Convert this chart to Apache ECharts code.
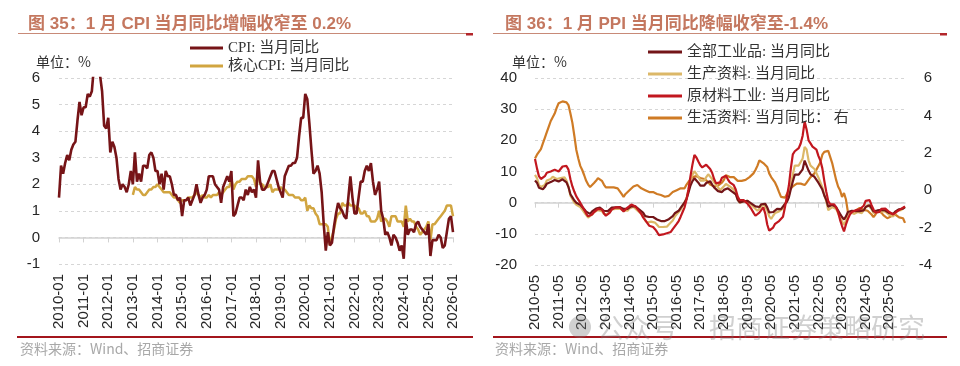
<!DOCTYPE html>
<html><head><meta charset="utf-8">
<script src="https://cdn.jsdelivr.net/npm/echarts@6/dist/echarts.min.js"></script>
<style>html,body{margin:0;padding:0;background:#fff}#c{width:960px;height:366px}</style>
</head><body><div id="c"></div>
<script>
// ---------- Left chart: CPI (monthly, 2010-01 .. 2026-01) ----------
const cpi = [
1.5,2.7,2.4,2.8,3.1,2.9,3.3,3.5,3.6,4.4,5.1,4.6,
4.9,4.9,5.4,5.3,5.5,6.4,6.5,6.2,6.1,5.5,4.2,4.1,
4.5,3.2,3.6,3.4,3.0,2.2,1.8,2.0,1.9,1.7,2.0,2.5,
2.0,3.2,2.1,2.4,2.1,2.7,2.7,2.6,3.1,3.2,3.0,2.5,
2.5,2.0,2.4,1.8,2.5,2.3,2.3,2.0,1.6,1.6,1.4,1.5,
0.8,1.4,1.4,1.5,1.2,1.4,1.6,2.0,1.6,1.3,1.5,1.6,
1.8,2.3,2.3,2.3,2.0,1.9,1.8,1.3,1.9,2.1,2.3,2.1,
2.5,0.8,0.9,1.2,1.5,1.5,1.4,1.8,1.6,1.9,1.7,1.8,
1.5,2.9,2.1,1.8,1.8,1.9,2.1,2.3,2.5,2.5,2.2,1.9,
1.7,1.5,2.3,2.5,2.7,2.7,2.8,2.8,3.0,3.8,4.5,4.5,
5.4,5.2,4.3,3.3,2.4,2.5,2.7,2.4,1.7,0.5,-0.5,0.2,
-0.3,-0.2,0.4,0.9,1.3,1.1,1.0,0.8,0.7,1.5,2.3,1.5,
0.9,0.9,1.5,2.1,2.1,2.5,2.7,2.5,2.8,2.1,1.6,1.8,
2.1,1.0,0.7,0.1,0.2,0.0,-0.3,0.1,0.0,-0.2,-0.5,-0.3,
-0.8,0.7,0.1,0.3,0.3,0.2,0.5,0.6,0.4,0.3,0.2,0.1,
0.5,-0.7,-0.1,-0.1,-0.1,0.1,0.0,-0.4,-0.3,0.2,0.7,0.8,
0.2];
// core CPI, 2013-01 .. 2026-01
const coreCpi = [
1.6,1.9,1.8,1.8,1.7,1.6,1.6,1.7,1.8,1.8,1.9,1.9,
2.0,1.9,1.8,1.7,1.7,1.7,1.7,1.6,1.5,1.5,1.4,1.3,
1.4,1.4,1.4,1.5,1.5,1.5,1.6,1.7,1.6,1.5,1.6,1.5,
1.5,1.6,1.5,1.6,1.6,1.6,1.7,1.6,1.7,1.8,1.9,1.9,
2.2,1.8,2.0,2.1,2.1,2.2,2.2,2.2,2.3,2.3,2.3,2.2,
1.9,2.5,2.0,2.0,1.9,1.9,1.9,2.0,1.7,1.8,1.8,1.8,
1.9,1.8,1.8,1.7,1.6,1.6,1.6,1.5,1.5,1.5,1.4,1.4,
1.5,1.0,1.2,1.1,1.1,0.9,0.8,0.5,0.5,0.5,0.5,0.4,
-0.3,0.0,0.3,0.7,0.9,0.9,1.3,1.2,1.2,1.3,1.2,1.2,
1.2,1.1,1.1,0.9,0.9,1.0,0.8,0.8,0.6,0.6,0.6,0.7,
1.0,0.6,0.7,0.7,0.6,0.4,0.8,0.8,0.8,0.6,0.6,0.6,
0.4,1.2,0.6,0.7,0.6,0.6,0.4,0.3,0.1,0.2,0.3,0.4,
0.6,-0.1,0.5,0.5,0.6,0.7,0.8,0.9,1.0,1.2,1.2,1.2,
0.8];

// ---------- Right chart: PPI (monthly, 2010-05 .. 2026-01) ----------
const ppiAll = [
7.1,6.4,4.8,4.3,4.3,5.0,6.1,5.9,
6.6,7.2,7.3,6.8,6.8,7.1,7.5,7.3,6.5,5.0,2.7,1.7,
0.7,0.0,-0.3,-0.7,-1.4,-2.1,-2.9,-3.5,-3.6,-2.8,-2.2,-1.9,
-1.6,-1.6,-1.9,-2.6,-2.9,-2.7,-2.3,-1.6,-1.3,-1.5,-1.4,-1.4,
-1.6,-2.0,-2.3,-2.0,-1.4,-1.1,-0.9,-1.2,-1.8,-2.2,-2.7,-3.3,
-4.3,-4.8,-4.6,-4.6,-4.6,-4.8,-5.4,-5.9,-5.9,-5.9,-5.9,-5.9,
-5.3,-4.9,-4.3,-3.4,-2.8,-2.6,-1.7,-0.8,0.1,1.2,3.3,5.5,
6.9,7.8,7.6,6.4,5.5,5.5,5.5,6.3,6.9,6.9,5.8,4.9,
4.3,3.7,3.1,3.4,4.1,4.7,4.6,4.1,3.6,3.3,2.7,0.9,
0.1,0.1,0.4,0.9,0.6,0.0,-0.3,-0.8,-1.2,-1.6,-1.4,-0.5,
0.1,-0.4,-1.5,-3.1,-3.7,-3.0,-2.4,-2.0,-2.1,-2.1,-1.5,-0.4,
0.3,1.7,4.4,6.8,9.0,8.8,9.0,9.5,10.7,13.5,12.9,10.3,
9.1,8.8,8.3,8.0,6.4,6.1,4.2,2.3,0.9,-1.3,-1.3,-0.7,
-0.8,-1.4,-2.5,-3.6,-4.6,-5.4,-4.4,-3.0,-2.5,-2.6,-3.0,-2.7,
-2.5,-2.7,-2.8,-2.5,-1.4,-0.8,-0.8,-1.8,-2.8,-2.9,-2.5,-2.3,
-2.3,-2.2,-2.5,-2.7,-3.3,-3.6,-3.6,-2.9,-2.3,-2.1,-2.2,-1.9,
-1.4];
const ppiProducer = [
8.9,7.9,5.7,5.0,4.9,5.7,7.1,6.7,
7.6,8.3,8.4,7.6,7.5,7.9,8.4,8.1,7.1,5.2,2.2,1.1,
0.0,-0.7,-1.0,-1.4,-2.2,-3.1,-4.0,-4.8,-4.9,-3.8,-3.1,-2.7,
-2.4,-2.4,-2.7,-3.6,-3.9,-3.7,-3.1,-2.2,-1.8,-2.0,-1.9,-1.9,
-2.1,-2.5,-3.0,-2.6,-1.9,-1.5,-1.3,-1.7,-2.5,-3.0,-3.6,-4.4,
-5.7,-6.4,-6.1,-6.1,-6.1,-6.4,-7.1,-7.8,-7.8,-7.8,-7.7,-7.7,
-7.0,-6.5,-5.7,-4.5,-3.7,-3.5,-2.3,-1.1,0.1,1.5,4.2,7.2,
9.0,10.1,9.9,8.3,7.1,7.1,7.1,8.2,9.1,9.1,7.6,6.5,
5.7,4.9,4.0,4.4,5.3,6.0,5.9,5.2,4.6,4.2,3.4,1.0,
0.0,0.0,0.4,1.0,0.6,-0.2,-0.7,-1.4,-2.0,-2.6,-2.4,-1.2,
-0.4,-1.0,-2.4,-4.4,-5.2,-4.2,-3.3,-2.7,-2.8,-2.7,-1.9,-0.4,
0.5,2.3,5.8,9.0,11.9,11.6,11.9,12.5,14.2,17.9,17.1,13.6,
11.9,11.5,10.8,10.3,8.1,7.6,5.0,2.4,0.5,-2.4,-2.4,-1.4,
-1.4,-2.0,-3.4,-4.8,-6.0,-7.2,-5.7,-3.6,-2.9,-3.1,-3.6,-3.2,
-3.0,-3.3,-3.4,-3.0,-1.5,-0.7,-0.7,-2.0,-3.3,-3.4,-3.0,-2.7,
-2.7,-2.5,-2.9,-3.1,-3.9,-4.3,-4.4,-3.4,-2.6,-2.3,-2.4,-2.0,
-1.3];
const ppiRaw = [
14.0,11.0,8.5,7.6,7.4,8.5,9.6,9.4,
10.0,10.5,10.6,10.0,10.0,10.8,11.6,12.2,11.8,10.6,7.5,5.2,
3.5,2.0,1.0,0.0,-1.2,-2.3,-3.5,-4.4,-4.6,-3.8,-3.0,-2.5,
-2.0,-1.6,-2.2,-3.4,-4.2,-4.0,-3.2,-2.2,-1.6,-1.5,-1.4,-1.5,
-1.8,-2.8,-2.6,-1.6,-1.0,-0.6,-0.5,-1.2,-1.8,-2.8,-3.6,-4.8,
-5.6,-6.5,-7.4,-7.6,-7.8,-8.5,-9.4,-10.4,-10.7,-10.2,-9.6,-9.8,
-10.0,-9.4,-8.5,-8.0,-6.8,-5.9,-4.5,-3.0,-1.5,1.0,4.3,8.5,
12.2,15.3,14.5,13.2,12.0,11.3,11.5,12.2,11.8,10.8,9.6,7.6,
6.2,5.8,6.5,8.0,8.6,8.6,7.5,6.5,6.2,5.6,4.2,2.0,
0.8,0.5,0.8,0.8,-0.3,-1.2,-2.1,-3.2,-4.2,-4.3,-3.2,-2.8,
-1.5,-3.5,-7.0,-9.0,-9.5,-8.0,-6.8,-6.2,-5.9,-5.6,-4.5,-1.5,
2.0,5.5,11.0,15.5,16.5,17.0,17.5,19.0,21.5,26.0,23.5,20.0,
19.0,18.0,17.5,17.0,15.0,13.5,11.0,7.0,3.5,0.5,-0.5,0.0,
-0.5,-1.5,-3.0,-5.5,-7.5,-9.2,-7.0,-5.2,-3.8,-3.0,-3.2,-2.4,
-2.2,-2.1,-2.1,-1.0,0.6,1.1,0.8,-0.8,-2.2,-3.2,-3.8,-3.0,
-2.0,-1.6,-1.9,-2.2,-3.0,-3.6,-3.8,-3.3,-2.8,-2.4,-2.0,-1.6,
-1.2];
// consumer goods PPI (right axis)
const ppiConsumer = [
1.7,1.9,2.0,2.2,2.5,2.8,3.1,3.4,
3.7,3.9,4.1,4.4,4.65,4.7,4.75,4.77,4.7,4.55,4.1,3.6,
2.9,2.15,1.7,1.3,1.08,0.8,0.5,0.3,0.17,0.25,0.38,0.5,
0.65,0.7,0.5,0.3,0.15,0.2,0.15,0.1,0.15,0.1,0.1,0.0,
-0.2,-0.36,-0.2,-0.1,0.0,0.1,0.2,0.28,0.28,0.2,0.1,0.05,
0.0,-0.05,-0.1,-0.1,-0.1,-0.1,-0.2,-0.2,-0.26,-0.3,-0.35,-0.4,
-0.3,-0.2,-0.1,0.0,0.0,0.05,0.1,0.05,0.1,0.3,0.45,0.55,
0.7,0.8,0.75,0.7,0.65,0.64,0.6,0.55,0.45,0.3,0.28,0.2,
0.17,0.25,0.35,0.4,0.55,0.8,0.75,0.7,0.72,0.7,0.6,0.5,
0.45,0.5,0.55,0.55,0.6,0.7,0.8,0.9,1.08,1.3,1.6,1.5,
1.45,1.35,1.24,0.9,0.7,0.55,0.4,0.17,-0.1,-0.36,-0.4,-0.4,
-0.2,0.0,0.1,0.2,0.28,0.35,0.38,0.35,0.3,0.28,0.4,0.55,
0.7,0.8,0.9,1.1,1.3,1.5,1.9,2.05,2.15,2.1,2.0,1.45,
1.0,0.55,0.2,0.0,-0.36,-0.15,-0.5,-1.17,-1.2,-1.17,-1.17,-1.1,
-1.0,-0.95,-1.0,-1.05,-1.0,-1.1,-1.15,-1.3,-1.43,-1.3,-1.1,-1.06,
-1.2,-1.33,-1.4,-1.5,-1.5,-1.4,-1.33,-1.3,-1.4,-1.45,-1.45,-1.5,
-1.75];

function monthList(y0, m0, y1, m1) {
  const out = [];
  let y = y0, m = m0;
  while (y < y1 || (y === y1 && m <= m1)) {
    out.push(y + '-' + (m < 10 ? '0' + m : m));
    m++; if (m > 12) { m = 1; y++; }
  }
  return out;
}
const cpiMonths = monthList(2010, 1, 2026, 1);
const coreMonths = monthList(2013, 1, 2026, 1);
const ppiMonths = monthList(2010, 5, 2026, 1);

const cpiNames = ['CPI: 当月同比', '核心CPI: 当月同比'];
const ppiNames = ['全部工业品: 当月同比', '生产资料: 当月同比', '原材料工业: 当月同比', '生活资料: 当月同比： 右'];

const SANS = '"Liberation Sans", Arial, "Noto Sans CJK SC", sans-serif';
const SERIF = '"Liberation Serif", "Times New Roman", "Noto Sans CJK SC", serif';
const CJK = '"Noto Sans CJK SC", "Liberation Sans", sans-serif';
const gridLine = { lineStyle: { type: [3, 3], color: '#d6d6d6', width: 1 } };
const yLab = { fontSize: 15, color: '#262626', fontFamily: SANS };

function zeroX(gi, data, yi) {
  return { gridIndex: gi, type: 'category', data: data, boundaryGap: false,
    axisLine: { onZero: true, onZeroAxisIndex: yi, lineStyle: { color: '#d2d2d2', width: 1.5 } },
    axisTick: { interval: 11, length: 5, lineStyle: { color: '#d2d2d2', width: 1 } },
    axisLabel: { show: false }, splitLine: { show: false } };
}
function labX(gi, data) {
  return { gridIndex: gi, type: 'category', data: data, boundaryGap: false, position: 'bottom',
    axisLine: { show: false, onZero: false }, axisTick: { show: false },
    axisLabel: { interval: 11, rotate: 90, fontSize: 15, margin: 10, color: '#262626', fontFamily: SANS },
    splitLine: { show: false } };
}
function ln(name, data, color, w, xi, yi) {
  return { type: 'line', name: name, data: data, xAxisIndex: xi, yAxisIndex: yi,
    symbol: 'none', smooth: false, lineStyle: { width: w, color: color }, itemStyle: { color: color } };
}

const chart = echarts.init(document.getElementById('c'), null, { renderer: 'canvas' });
chart.setOption({
  animation: false,
  backgroundColor: '#fff',
  grid: [
    { left: 59, top: 78, width: 394, height: 186 },
    { left: 535, top: 78, width: 370, height: 187 }
  ],
  xAxis: [zeroX(0, cpiMonths, 0), labX(0, cpiMonths), zeroX(1, ppiMonths, 1), labX(1, ppiMonths)],
  yAxis: [
    { gridIndex: 0, type: 'value', min: -1, max: 6, interval: 1, axisLine: { show: false }, axisTick: { show: false },
      axisLabel: Object.assign({ margin: 19 }, yLab), splitLine: gridLine },
    { gridIndex: 1, type: 'value', min: -20, max: 40, interval: 10, axisLine: { show: false }, axisTick: { show: false },
      axisLabel: Object.assign({ margin: 18 }, yLab), splitLine: gridLine },
    { gridIndex: 1, type: 'value', position: 'right', min: -4, max: 6, interval: 2, axisLine: { show: false, onZero: false }, axisTick: { show: false },
      axisLabel: Object.assign({ margin: 27, align: 'right' }, yLab), splitLine: { show: false } }
  ],
  legend: [
    { left: 185, top: 35.5, orient: 'vertical', icon: 'rect', itemWidth: 33, itemHeight: 3, itemGap: 3, data: cpiNames,
      textStyle: { fontSize: 15, color: '#333', fontFamily: SERIF } },
    { left: 643, top: 39.5, orient: 'vertical', icon: 'rect', itemWidth: 34, itemHeight: 3, itemGap: 7, data: ppiNames,
      textStyle: { fontSize: 15, color: '#333', fontFamily: SERIF } }
  ],
  series: [
    ln(cpiNames[1], coreCpi.map((v, i) => [coreMonths[i], v]), '#d1a540', 2.5, 0, 0),
    ln(cpiNames[0], cpi, '#761417', 2.6, 0, 0),
    ln(ppiNames[3], ppiConsumer, '#cf7b25', 2.2, 2, 2),
    ln(ppiNames[1], ppiProducer, '#dcb868', 2.2, 2, 1),
    ln(ppiNames[0], ppiAll, '#731518', 2.2, 2, 1),
    ln(ppiNames[2], ppiRaw, '#c2171f', 2.2, 2, 1)
  ],
  graphic: [
    { type: 'text', x: 28, y: 24, style: { text: '图 35：1 月 CPI 当月同比增幅收窄至 0.2%', font: 'bold 17px ' + SANS, fill: '#c4775f', textVerticalAlign: 'middle', verticalAlign: 'middle' } },
    { type: 'text', x: 505, y: 24, style: { text: '图 36：1 月 PPI 当月同比降幅收窄至-1.4%', font: 'bold 17px ' + SANS, fill: '#c4775f', textVerticalAlign: 'middle', verticalAlign: 'middle' } },
    { type: 'line', shape: { x1: 18, y1: 33.5, x2: 466, y2: 33.5 }, style: { stroke: '#c88a78', lineWidth: 1 } },
    { type: 'rect', shape: { x: 466, y: 33, width: 7, height: 2.5 }, style: { fill: '#b3262b' } },
    { type: 'line', shape: { x1: 493, y1: 33.5, x2: 940, y2: 33.5 }, style: { stroke: '#c88a78', lineWidth: 1 } },
    { type: 'rect', shape: { x: 940, y: 33, width: 7, height: 2.5 }, style: { fill: '#b3262b' } },
    { type: 'text', x: 36, y: 62, style: { text: '单位：%', font: '14px ' + CJK, fill: '#333', textVerticalAlign: 'middle', verticalAlign: 'middle' } },
    { type: 'text', x: 512, y: 62, style: { text: '单位：%', font: '14px ' + CJK, fill: '#333', textVerticalAlign: 'middle', verticalAlign: 'middle' } },
    { type: 'line', shape: { x1: 17, y1: 337, x2: 473, y2: 337 }, style: { stroke: '#a3151c', lineWidth: 2 } },
    { type: 'line', shape: { x1: 493, y1: 337, x2: 947, y2: 337 }, style: { stroke: '#a3151c', lineWidth: 2 } },
    { type: 'text', x: 20, y: 349, style: { text: '资料来源：Wind、招商证券', font: '14px ' + CJK, fill: '#a8a8a8', textVerticalAlign: 'middle', verticalAlign: 'middle' } },
    { type: 'text', x: 495, y: 349, style: { text: '资料来源：Wind、招商证券', font: '14px ' + CJK, fill: '#a8a8a8', textVerticalAlign: 'middle', verticalAlign: 'middle' } },
    { type: 'circle', shape: { cx: 580, cy: 327, r: 11 }, style: { fill: 'rgba(120,120,120,0.35)' }, z: 100 },
    { type: 'text', x: 597, y: 328, z: 100, style: { text: '公众号', font: '27px ' + CJK, fill: 'rgba(120,120,120,0.35)', textVerticalAlign: 'middle', verticalAlign: 'middle' } },
    { type: 'text', x: 709, y: 328, z: 100, style: { text: '招商证券策略研究', font: '27px ' + CJK, fill: 'rgba(120,120,120,0.35)', textVerticalAlign: 'middle', verticalAlign: 'middle' } }
  ]
});
</script></body></html>
